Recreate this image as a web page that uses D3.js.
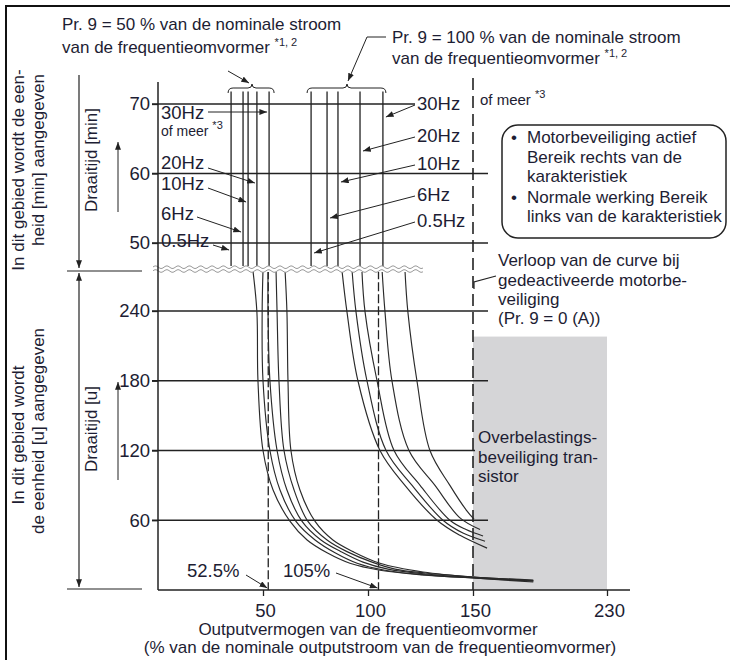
<!DOCTYPE html>
<html>
<head>
<meta charset="utf-8">
<script src="https://d3js.org/d3.v7.min.js"></script>
<style>
  body { margin: 0; background: #fff; }
  svg { display: block; }
  text { font-family: "Liberation Sans", Arial, sans-serif; fill: #1d1d33; }
</style>
</head>
<body>
<svg id="chart" width="730" height="660"></svg>
<script>
// values
var freqLabels = ['0.5Hz', '6Hz', '10Hz', '20Hz', '30Hz'];
var minuteTicks = [50, 60, 70];
var hourTicks = [60, 120, 180, 240];
var xTicks = [50, 100, 150, 230];

// vertical part of the characteristic, minutes range (x = % current)
var minuteLines50 = [34.8, 40.5, 42.9, 47.1, 52.9];
var minuteLines100 = [72.9, 80.5, 85.7, 96.2, 107.1];

// hours range, [% current, hours], 0.5Hz .. 30Hz
var hourCurves50 = [
  [[45.2, 275], [47.1, 239], [47.6, 180], [50.0, 120], [54.8, 86], [62.9, 59], [71.0, 43], [80.5, 32], [91.4, 23], [105.7, 17], [126.2, 13], [150, 10.3], [186, 6.9]],
  [[50.0, 275], [49.6, 239], [50.0, 180], [53.3, 120], [58.1, 86], [65.7, 59], [74.8, 43], [84.3, 32], [94.8, 23], [108.1, 17], [127.1, 13], [150, 10.3], [186, 7.7]],
  [[52.4, 275], [52.4, 239], [53.3, 180], [56.7, 120], [61.4, 86], [68.6, 59], [77.6, 43], [87.1, 33], [97.6, 24], [109.5, 18], [127.1, 13.8], [150, 10.8], [186, 7.7]],
  [[56.2, 275], [56.7, 239], [57.6, 180], [60.0, 120], [64.8, 86], [71.4, 59], [80.5, 43], [90.0, 33], [101.9, 24], [112.9, 18], [127.1, 14.6], [150, 11.2], [186, 8.2]],
  [[60.5, 275], [61.4, 239], [61.9, 180], [63.3, 120], [67.6, 86], [74.8, 59], [83.3, 43], [92.9, 33], [105.7, 23], [126.2, 15.5], [150, 11.2], [186, 8.6]]
];
var hourCurves100 = [
  [[87.6, 275], [90.0, 239], [95.2, 180], [105.7, 120], [117.6, 90], [132.9, 60], [143.8, 47], [158.4, 36]],
  [[92.4, 275], [94.3, 239], [99.5, 180], [108.6, 120], [121.0, 90], [135.7, 60], [145.2, 49], [157.2, 42]],
  [[97.1, 275], [98.6, 239], [104.3, 180], [112.4, 120], [124.8, 90], [139.0, 60], [146.7, 52], [156.0, 46.5]],
  [[106.7, 275], [108.1, 239], [111.4, 180], [119.5, 120], [131.9, 90], [143.8, 62], [154.2, 52]],
  [[117.6, 275], [119.0, 239], [123.3, 180], [129.5, 120], [139.0, 90], [146.7, 69], [150.6, 61]]
];

var markPcts = [52.5, 105];
var markLabels = ['52.5%', '105%'];
var limitPct = 150;
var transistorZone = [150, 230];
var transistorTop = 218;
var minuteTop = 71.8;
var minuteBreak = 46.5;
var hourBreak = 275;

var svg = d3.select('#chart');
var ink = '#222';

var x = d3.scaleLinear().domain([0, 150, 230]).range([158, 473, 607]);
var yMin = d3.scaleLinear().domain([50, 70]).range([243, 104]);
var yHour = d3.scaleLinear().domain([0, 240]).range([590, 311]);

var defs = svg.append('defs');
defs.append('marker')
  .attr('id', 'arrow')
  .attr('viewBox', '0 0 9 7')
  .attr('refX', 9).attr('refY', 3.5)
  .attr('markerWidth', 8).attr('markerHeight', 6)
  .attr('markerUnits', 'userSpaceOnUse')
  .attr('orient', 'auto-start-reverse')
  .append('path').attr('d', 'M0,0L9,3.5L0,7Z').attr('fill', ink);

function seg (x1, y1, x2, y2, w) {
  return svg.append('line')
    .attr('x1', x1).attr('y1', y1).attr('x2', x2).attr('y2', y2)
    .attr('stroke', ink).attr('stroke-width', w || 1);
}

function arrow (x1, y1, x2, y2) {
  return seg(x1, y1, x2, y2, 1).attr('marker-end', 'url(#arrow)');
}

function label (px, py, str, size, anchor) {
  return svg.append('text')
    .attr('x', px).attr('y', py)
    .attr('font-size', size || 17)
    .attr('text-anchor', anchor || 'start')
    .text(str);
}

function sup (t, str) {
  t.append('tspan').attr('font-size', 11).attr('dy', -7).text(str);
  return t;
}

function vlabel (px, py, str) {
  return svg.append('text')
    .attr('transform', 'translate(' + px + ',' + py + ') rotate(-90)')
    .attr('font-size', 17)
    .attr('text-anchor', 'middle')
    .text(str);
}

// frame
svg.append('rect').attr('x', 6).attr('y', 6).attr('width', 740).attr('height', 680)
  .attr('fill', 'none').attr('stroke', '#111').attr('stroke-width', 2);

// transistor overload zone
svg.append('rect')
  .attr('x', x(transistorZone[0])).attr('y', yHour(transistorTop))
  .attr('width', x(transistorZone[1]) - x(transistorZone[0]))
  .attr('height', yHour(0) - yHour(transistorTop))
  .attr('fill', '#d5d5d7');

// grid lines
minuteTicks.forEach(function (t) {
  seg(152, yMin(t), t === 70 ? 415 : 488, yMin(t), 1.3);
});
hourTicks.forEach(function (t) {
  seg(152, yHour(t), t === 120 ? 475 : 488, yHour(t), 1.3);
});

// axes labels
var axMin = svg.append('g').attr('transform', 'translate(158,0)')
  .call(d3.axisLeft(yMin).tickValues(minuteTicks).tickSize(6).tickPadding(2));
var axHour = svg.append('g').attr('transform', 'translate(158,0)')
  .call(d3.axisLeft(yHour).tickValues(hourTicks).tickSize(6).tickPadding(2));
var axX = svg.append('g').attr('transform', 'translate(0,' + yHour(0) + ')')
  .call(d3.axisBottom(x).tickValues(xTicks).tickSize(6).tickPadding(8));
[axMin, axHour, axX].forEach(function (ax) {
  ax.select('.domain').remove();
  ax.selectAll('.tick line').attr('stroke', ink).attr('stroke-width', 1.3);
  ax.selectAll('.tick text').attr('font-size', 18.5)
    .attr('font-family', '"Liberation Sans", Arial, sans-serif').attr('fill', '#1d1d33');
});
axX.selectAll('.tick text').attr('dx', 2);

// dashed markers
markPcts.forEach(function (p) {
  seg(x(p), yHour(hourBreak), x(p), yHour(0), 1.3).attr('stroke-dasharray', '9,3');
});
seg(x(limitPct), 78, x(limitPct), yHour(0), 1.6).attr('stroke-dasharray', '12,6');

// minute range vertical lines
minuteLines50.concat(minuteLines100).forEach(function (p) {
  seg(x(p), yMin(minuteTop), x(p), yMin(minuteBreak), 1.3);
});

// hour range curves
var line = d3.line()
  .x(function (d) { return x(d[0]); })
  .y(function (d) { return yHour(d[1]); })
  .curve(d3.curveCatmullRom.alpha(0.5));

svg.append('g').selectAll('path')
  .data(hourCurves50.concat(hourCurves100))
  .join('path')
  .attr('d', line)
  .attr('fill', 'none')
  .attr('stroke', '#2a2a2a')
  .attr('stroke-width', 1.15);

// axis break
svg.append('rect').attr('x', 150).attr('y', 266).attr('width', 276).attr('height', 6).attr('fill', '#fff');
var waveX = d3.range(153, 424, 1);
[267.2, 271].forEach(function (w) {
  svg.append('path')
    .attr('d', d3.line()(waveX.map(function (v) { return [v, w + 1.3 * Math.sin(v / 1.8)]; })))
    .attr('fill', 'none').attr('stroke', '#9a9a9a').attr('stroke-width', 1);
});

// axis lines
seg(158, 82, 158, yHour(0), 1.5);
seg(158, yHour(0), 630, yHour(0), 1.5);

// braces over the two groups
function brace (x0, x1, xm, y) {
  var d = 'M' + x0 + ',' + (y + 5) + 'Q' + x0 + ',' + y + ' ' + (x0 + 5) + ',' + y +
    'L' + (xm - 4) + ',' + y + 'Q' + xm + ',' + y + ' ' + xm + ',' + (y - 4) +
    'Q' + xm + ',' + y + ' ' + (xm + 4) + ',' + y +
    'L' + (x1 - 5) + ',' + y + 'Q' + x1 + ',' + y + ' ' + x1 + ',' + (y + 5);
  svg.append('path').attr('d', d).attr('fill', 'none').attr('stroke', ink).attr('stroke-width', 1);
}
brace(x(minuteLines50[0]) - 3, x(minuteLines50[4]) + 5, 252, 88);
brace(x(minuteLines100[0]) - 4, x(minuteLines100[4]) + 3, 347, 88);

// headings
label(62, 30, 'Pr. 9 = 50 % van de nominale stroom');
sup(label(62, 53, 'van de frequentieomvormer '), '*1, 2');
arrow(228, 71, 249, 83);
label(392, 43, 'Pr. 9 = 100 % van de nominale stroom');
sup(label(392, 64, 'van de frequentieomvormer '), '*1, 2');
svg.append('path').attr('d', 'M386,37L367,37L348,81')
  .attr('fill', 'none').attr('stroke', ink).attr('stroke-width', 1)
  .attr('marker-end', 'url(#arrow)');

// frequency labels, left group
var leftLabelY = [247, 220, 190, 169, 119];
var leftFrom = [[213, 245], [197, 217], [208, 188], [208, 168], [208, 112]];
var leftTipY = [250, 232, 202, 183, 112];
freqLabels.forEach(function (f, i) {
  label(161, leftLabelY[i], f, 18.5);
  arrow(leftFrom[i][0], leftFrom[i][1], x(minuteLines50[i]) - 2, leftTipY[i]);
});
sup(label(161, 136, 'of meer ', 14), '*3');

// frequency labels, right group
var rightLabelY = [227, 201, 170, 142, 110];
var rightFromY = [222, 196, 165, 137, 105];
var rightTipY = [253, 218, 182, 151, 117];
freqLabels.forEach(function (f, i) {
  label(417, rightLabelY[i], f, 18.5);
  arrow(415, rightFromY[i], x(minuteLines100[i]) + 3, rightTipY[i]);
});
sup(label(480, 105, 'of meer ', 15), '*3');

// 52.5% / 105% pointers
label(187, 577, markLabels[0], 18.5);
arrow(246, 575, x(markPcts[0]) - 1, 588);
label(283, 577, markLabels[1], 18.5);
arrow(336, 573, x(markPcts[1]) - 1, 588);

// legend box
svg.append('rect').attr('x', 502).attr('y', 125).attr('width', 224).attr('height', 113).attr('rx', 16)
  .attr('fill', '#fff').attr('stroke', ink).attr('stroke-width', 1.5);
label(511, 143, '\u2022', 17);
label(527, 143, 'Motorbeveiliging actief');
label(527, 163, 'Bereik rechts van de');
label(527, 182, 'karakteristiek');
label(511, 203, '\u2022', 17);
label(527, 203, 'Normale werking Bereik');
label(527, 222, 'links van de karakteristiek');

// disabled protection note
label(498, 266, 'Verloop van de curve bij');
label(498, 286, 'gedeactiveerde motorbe-');
label(498, 305, 'veiliging');
label(498, 324, '(Pr. 9 = 0 (A))');
svg.append('path').attr('d', 'M496,276L474,282L474,289')
  .attr('fill', 'none').attr('stroke', ink).attr('stroke-width', 1.2);

// transistor zone text
label(478, 443, 'Overbelastings-');
label(478, 463, 'beveiliging tran-');
label(478, 482, 'sistor');

// x axis title
label(368, 635, 'Outputvermogen van de frequentieomvormer', 17, 'middle');
label(380, 653, '(% van de nominale outputstroom van de frequentieomvormer)', 17, 'middle');

// left side: ranges and units
seg(79, 75, 79, 268, 1.2).attr('marker-end', 'url(#arrow)');
seg(67, 271, 142, 271, 1.2);
seg(79, 273, 79, 587, 1.2).attr('marker-start', 'url(#arrow)').attr('marker-end', 'url(#arrow)');
seg(67, 589, 142, 589, 1.2);
vlabel(24, 170, 'In dit gebied wordt de een-');
vlabel(44, 160, 'heid [min] aangegeven');
vlabel(24, 435, 'In dit gebied wordt');
vlabel(44, 431, 'de eenheid [u] aangegeven');
vlabel(97, 160, 'Draaitijd [min]');
vlabel(97, 429, 'Draaitijd [u]');
arrow(118, 212, 118, 142);
arrow(118, 480, 118, 382);
</script>
</body>
</html>
